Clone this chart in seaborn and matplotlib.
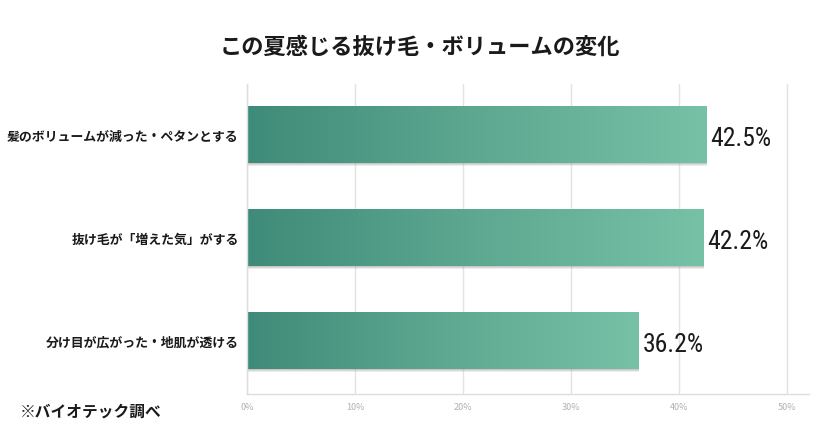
import matplotlib
matplotlib.use("Agg")
import matplotlib.pyplot as plt
import seaborn as sns
import numpy as np
import pandas as pd
from matplotlib.colors import LinearSegmentedColormap
from matplotlib.patches import Rectangle

categories = ["髪のボリュームが減った・ペタンとする", "抜け毛が「増えた気」がする", "分け目が広がった・地肌が透ける"]
values = [42.5, 42.2, 36.2]
tick_values = [0, 10, 20, 30, 40, 50]
tick_labels = ["0%", "10%", "20%", "30%", "40%", "50%"]
title = "この夏感じる抜け毛・ボリュームの変化"
source = "※バイオテック調べ"

sns.set_theme(style="white")
plt.rcParams['font.family'] = ['Noto Sans CJK JP', 'DejaVu Sans']

df = pd.DataFrame({"cat": categories, "val": values})

fig = plt.figure(figsize=(8.4, 4.39), dpi=100)
ax = fig.add_axes([247/840, (439-395)/439, (809-247)/840, (395-85)/439])

sns.barplot(data=df, x="val", y="cat", ax=ax, width=0.553, color="#4f9a85", orient="h")

ax.set_xlim(0, 52)
ax.set_ylim(2.52, -0.485)

cmap = LinearSegmentedColormap.from_list("g", ["#3f8b79", "#5ea891", "#77c1a7"])
grad = np.linspace(0, 1, 256).reshape(1, -1)
for p in list(ax.patches):
    x0, y0 = p.get_x(), p.get_y()
    w, h = p.get_width(), p.get_height()
    # soft shadow
    for k, a in [(0.035, 0.18), (0.022, 0.25), (0.012, 0.3)]:
        sh = Rectangle((x0 + 0.05, y0 + k), w, h, facecolor="#a0a0a0", alpha=a,
                       edgecolor="none", zorder=1.5)
        ax.add_patch(sh)
    p.set_facecolor("none")
    p.set_edgecolor("none")
    im = ax.imshow(grad, cmap=cmap, aspect="auto", extent=(x0, x0 + w, y0 + h, y0),
                   zorder=2, interpolation="bicubic")
    clip = Rectangle((x0, y0), w, h, transform=ax.transData)
    im.set_clip_path(clip)
    ax.text(x0 + w + 0.4, y0 + h / 2 + 0.04, f"{w:.1f}%", va="center", ha="left",
            fontsize=18.5, fontweight="normal", color="#1a1a1a",
            family=['Roboto Condensed', 'Liberation Sans Narrow', 'DejaVu Sans'],
            zorder=3)

ax.set_xlim(0, 52)
ax.set_ylim(2.52, -0.485)
ax.set_xticks(tick_values)
ax.set_xticklabels(tick_labels, fontsize=6.5, color="#b0b0b0")
ax.xaxis.grid(True, color="#e3e3e3", linewidth=1)
ax.set_axisbelow(True)
ax.tick_params(axis="x", length=0, pad=6)
ax.tick_params(axis="y", length=0, pad=6)
for lab in ax.get_yticklabels():
    lab.set_fontsize(9.3)
    lab.set_fontweight("bold")
    lab.set_color("#1a1a1a")
ax.set_xlabel("")
ax.set_ylabel("")
for s in ["top", "right"]:
    ax.spines[s].set_visible(False)
ax.spines["left"].set_color("#dddddd")
ax.spines["bottom"].set_color("#dddddd")
ax.spines["left"].set_linewidth(1)
ax.spines["bottom"].set_linewidth(1)

fig.text(420/840, 1 - 47/439, title, ha="center", va="center", fontsize=16,
         fontweight="bold", color="#1a1a1a")
fig.text(20/840, 1 - 412/439, source, ha="left", va="center", fontsize=11.3,
         fontweight="bold", color="#1a1a1a")

fig.savefig("out.png", dpi=100, facecolor="white")
